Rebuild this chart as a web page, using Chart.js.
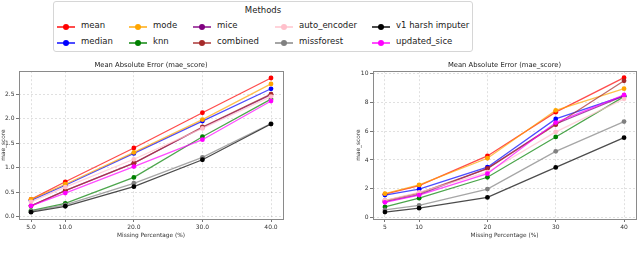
<!DOCTYPE html>
<html>
<head>
<meta charset="utf-8">
<script src="https://cdn.jsdelivr.net/npm/chart.js@4"></script>
<style>
  body { margin: 0; background: #fff; font-family: "DejaVu Sans", sans-serif; }
  #page { position: relative; width: 640px; height: 255px; overflow: hidden; }
  .box { position: absolute; }
  #legend { position: absolute; left: 53px; top: 1px; width: 418px; height: 49px;
            border: 1px solid #d6d6d6; border-radius: 3px; background: #fff; }
  #legend .title { position: absolute; left: 0; width: 100%; top: 3px; text-align: center; font-size: 8.5px; color: #222; }
  .item { position: absolute; height: 10px; font-size: 8.5px; color: #222; white-space: nowrap; }
  .item .ln { position: absolute; left: 0; top: 4.5px; width: 18px; height: 0; border-top: 2px solid; }
  .item .dot { position: absolute; left: 6px; top: 2.5px; width: 6px; height: 6px; border-radius: 50%; }
  .item .lbl { position: absolute; left: 24px; top: -1px; }
</style>
</head>
<body>
<div id="page">
  <div id="legend"><div class="title">Methods</div></div>
  <div class="box" style="left:0;top:55px;width:300px;height:190px;"><canvas id="chartA"></canvas></div>
  <div class="box" style="left:320px;top:55px;width:320px;height:190px;"><canvas id="chartB"></canvas></div>
</div>
<script>
const methods = ['mean', 'median', 'mode', 'knn', 'mice', 'combined', 'auto_encoder', 'missforest', 'v1 harsh imputer', 'updated_sice'];
const colors = ['255,0,0', '0,0,255', '255,165,0', '0,128,0', '128,0,128', '165,42,42', '255,192,203', '128,128,128', '0,0,0', '255,0,255'];

const pct = [5, 10, 20, 30, 40];
const xTickLabelsA = ['5.0', '10.0', '20.0', '30.0', '40.0'];
const xTickLabelsB = ['5', '10', '20', '30', '40'];
const yTicksA = [0, 0.5, 1.0, 1.5, 2.0, 2.5];
const yTicksB = [0, 2, 4, 6, 8, 10];

// left panel
const meanA = [0.35, 0.71, 1.40, 2.12, 2.83];
const medianA = [0.33, 0.64, 1.29, 1.95, 2.61];
const modeA = [0.35, 0.66, 1.31, 1.98, 2.71];
const knnA = [0.12, 0.27, 0.80, 1.63, 2.40];
const miceA = [0.22, 0.53, 1.09, 1.82, 2.49];
const combinedA = [0.22, 0.53, 1.09, 1.83, 2.50];
const autoEncoderA = [0.30, 0.60, 1.17, 1.80, 2.45];
const missforestA = [0.11, 0.24, 0.68, 1.21, 1.90];
const v1A = [0.09, 0.21, 0.61, 1.16, 1.89];
const updatedSiceA = [0.22, 0.48, 1.02, 1.57, 2.36];

// right panel
const meanB = [1.62, 2.22, 4.28, 7.32, 9.72];
const medianB = [1.56, 1.97, 3.50, 6.85, 8.45];
const modeB = [1.66, 2.27, 4.12, 7.45, 8.95];
const knnB = [0.74, 1.35, 2.80, 5.60, 8.40];
const miceB = [1.10, 1.60, 3.42, 6.50, 8.45];
const combinedB = [1.18, 1.70, 3.40, 6.45, 9.50];
const autoEncoderB = [1.20, 1.75, 3.15, 5.95, 8.25];
const missforestB = [0.53, 0.85, 1.98, 4.60, 6.67];
const v1B = [0.38, 0.65, 1.40, 3.48, 5.55];
const updatedSiceB = [1.06, 1.56, 3.05, 6.60, 8.52];

const seriesA = [meanA, medianA, modeA, knnA, miceA, combinedA, autoEncoderA, missforestA, v1A, updatedSiceA];
const seriesB = [meanB, medianB, modeB, knnB, miceB, combinedB, autoEncoderB, missforestB, v1B, updatedSiceB];

const FONT = 'DejaVu Sans';

// legend, column-wise like matplotlib
const legend = document.getElementById('legend');
const colX = [3, 75, 139, 221, 318];
methods.forEach(function(m, i) {
    const el = document.createElement('div');
    el.className = 'item';
    el.style.left = colX[Math.floor(i / 2)] + 'px';
    el.style.top = (i % 2 === 0 ? 19 : 35) + 'px';
    el.innerHTML = '<div class="ln" style="border-color:rgba(' + colors[i] + ',0.7)"></div>' +
        '<div class="dot" style="background:rgb(' + colors[i] + ')"></div>' +
        '<div class="lbl">' + m + '</div>';
    legend.appendChild(el);
});

const frame = {
    id: 'frame',
    afterDraw(chart) {
        const a = chart.chartArea, ctx = chart.ctx;
        ctx.save();
        ctx.strokeStyle = '#8a8a8a';
        ctx.lineWidth = 1;
        ctx.strokeRect(Math.round(a.left) + 0.5, Math.round(a.top) + 0.5,
            Math.round(a.right - a.left), Math.round(a.bottom - a.top));
        ctx.restore();
    }
};

function makeChart(id, series, xLabels, yTicks, yMin, yMax, yDigits, yWidth, padLeft, padRight) {
    const datasets = methods.map(function(m, i) {
        return {
            label: m,
            data: pct.map(function(x, j) { return {x: x, y: series[i][j]}; }),
            borderColor: 'rgba(' + colors[i] + ',0.7)',
            backgroundColor: 'rgb(' + colors[i] + ')',
            pointBackgroundColor: 'rgb(' + colors[i] + ')',
            pointBorderColor: 'rgb(' + colors[i] + ')',
            borderWidth: 1.3,
            pointRadius: 2.4,
            pointBorderWidth: 0,
            tension: 0,
            order: methods.length - i
        };
    });
    return new Chart(document.getElementById(id), {
        type: 'line',
        data: {datasets: datasets},
        plugins: [frame],
        options: {
            responsive: true,
            maintainAspectRatio: false,
            animation: false,
            layout: {padding: {left: padLeft, right: padRight, top: 0, bottom: 0}},
            plugins: {
                legend: {display: false},
                tooltip: {enabled: false},
                title: {
                    display: true,
                    text: 'Mean Absolute Error (mae_score)',
                    fullSize: false,
                    color: '#222',
                    font: {family: FONT, size: 6.8, weight: 'normal'},
                    padding: {top: 6.5, bottom: 1.5}
                }
            },
            scales: {
                x: {
                    type: 'linear',
                    min: 3.25,
                    max: 41.75,
                    afterBuildTicks: function(s) { s.ticks = pct.map(function(v) { return {value: v}; }); },
                    afterFit: function(s) { s.height = 26; },
                    ticks: {
                        color: '#333',
                        font: {family: FONT, size: 6},
                        padding: 1.5,
                        maxRotation: 0,
                        autoSkip: false,
                        callback: function(v) { return xLabels[pct.indexOf(v)]; }
                    },
                    grid: {color: 'rgba(0,0,0,0.12)', tickColor: '#777', tickLength: 3},
                    border: {display: false, dash: [2, 2]},
                    title: {display: true, text: 'Missing Percentage (%)', color: '#333',
                        font: {family: FONT, size: 5.8}, padding: {top: 0, bottom: 6.5}}
                },
                y: {
                    min: yMin,
                    max: yMax,
                    afterBuildTicks: function(s) { s.ticks = yTicks.map(function(v) { return {value: v}; }); },
                    afterFit: function(s) { s.width = yWidth; },
                    ticks: {
                        color: '#333',
                        font: {family: FONT, size: 6},
                        padding: 1.5,
                        callback: function(v) { return v.toFixed(yDigits); }
                    },
                    grid: {color: 'rgba(0,0,0,0.12)', tickColor: '#777', tickLength: 3},
                    border: {display: false, dash: [2, 2]},
                    title: {display: true, text: 'mae_score', color: '#333',
                        font: {family: FONT, size: 5.8}, padding: 0}
                }
            }
        }
    });
}

makeChart('chartA', seriesA, xTickLabelsA, yTicksA, -0.05, 2.97, 1, 19, 0, 17);
makeChart('chartB', seriesB, xTickLabelsB, yTicksB, -0.1, 10.17, 0, 18, 35, 2);
</script>
</body>
</html>
